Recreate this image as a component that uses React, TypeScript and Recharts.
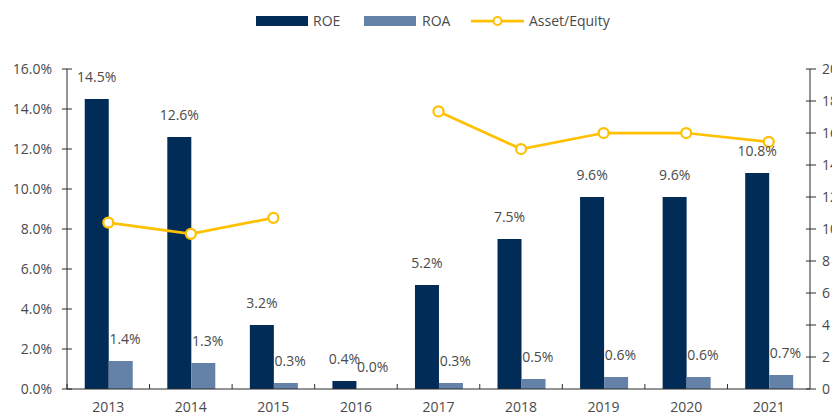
import React from 'react';
import { ComposedChart, Bar, Line, XAxis, YAxis, LabelList } from 'recharts';

const years = ['2013', '2014', '2015', '2016', '2017', '2018', '2019', '2020', '2021'];
const roe = [14.5, 12.6, 3.2, 0.4, 5.2, 7.5, 9.6, 9.6, 10.8];
const roa = [1.4, 1.3, 0.3, 0.0, 0.3, 0.5, 0.6, 0.6, 0.7];
const assetEquity: (number | null)[] = [10.4, 9.7, 10.7, null, 17.35, 15.0, 16.0, 16.0, 15.45];
const leftTicks = [0, 2, 4, 6, 8, 10, 12, 14, 16];
const rightTicks = [0, 2, 4, 6, 8, 10, 12, 14, 16, 18, 20];
const seriesNames = ['ROE', 'ROA', 'Asset/Equity'];

const data = years.map((y, i) => ({ year: y, roe: roe[i], roa: roa[i], roaLabel: roa[i], ae: assetEquity[i] }));

const W = 832;
const H = 408;
const LEFT_W = 59;
const RIGHT_W = 30;
const TOP = 61;
const BOTTOM_H = 27;
const BW = (W - LEFT_W - RIGHT_W) / years.length;
const CAT_GAP = 0.215;
const BAR_W = (BW * (1 - 2 * CAT_GAP)) / 2;

const C_ROE = '#012C57';
const C_ROA = '#6482A7';
const C_LINE = '#FFC000';
const TEXT = '#4a4a4a';
const AXIS = '#2b2b2b';
const FONT = '"Open Sans", "Noto Sans", sans-serif';

const LeftTick = (props: any) => {
  const { x, y, payload } = props;
  return (
    <g>
      <line x1={x + 10} x2={x + 20} y1={y} y2={y} stroke={AXIS} strokeWidth={1} />
      <text x={x} y={y} dy="0.35em" textAnchor="end" fill={TEXT} fontSize={14} fontFamily={FONT}>
        {`${Number(payload.value).toFixed(1)}%`}
      </text>
    </g>
  );
};

const RightTick = (props: any) => {
  const { x, y, payload } = props;
  return (
    <g>
      <line x1={x - 16} x2={x - 6} y1={y} y2={y} stroke={AXIS} strokeWidth={1} />
      <text x={x} y={y} dy="0.35em" textAnchor="start" fill={TEXT} fontSize={14} fontFamily={FONT}>
        {payload.value}
      </text>
    </g>
  );
};

const XTick = (props: any) => {
  const { x, y, payload } = props;
  return (
    <g>
      <line x1={x - BW / 2} x2={x - BW / 2} y1={y - 5} y2={y} stroke={AXIS} strokeWidth={1} />
      <text x={x} y={y + 23} textAnchor="middle" fill={TEXT} fontSize={14} fontFamily={FONT}>
        {payload.value}
      </text>
    </g>
  );
};

const pct = (v: any) => `${Number(v).toFixed(1)}%`;

const legendText: React.CSSProperties = {
  position: 'absolute',
  top: 4,
  fontFamily: FONT,
  fontSize: 14,
  lineHeight: '18px',
  color: TEXT,
  whiteSpace: 'nowrap',
};

const Legend = () => (
  <div style={{ position: 'absolute', top: 0, left: 0, width: W, height: 30 }}>
    <span style={{ position: 'absolute', left: 248, top: 8, width: 52, height: 10, background: C_ROE }} />
    <span style={{ ...legendText, left: 305 }}>{seriesNames[0]}</span>
    <span style={{ position: 'absolute', left: 356, top: 8, width: 52, height: 10, background: C_ROA }} />
    <span style={{ ...legendText, left: 414 }}>{seriesNames[1]}</span>
    <svg width={53} height={14} style={{ position: 'absolute', left: 463, top: 6 }}>
      <line x1={0} x2={53} y1={7} y2={7} stroke={C_LINE} strokeWidth={2.75} />
      <circle cx={26.5} cy={7} r={4} fill="#fff" stroke={C_LINE} strokeWidth={2} />
    </svg>
    <span style={{ ...legendText, left: 521 }}>{seriesNames[2]}</span>
  </div>
);

export default function App() {
  return (
    <div style={{ position: 'relative', width: W, height: H }}>
      <ComposedChart
        width={W}
        height={H}
        data={data}
        margin={{ top: TOP, right: 0, bottom: 0, left: 0 }}
        barCategoryGap={`${CAT_GAP * 100}%`}
        barGap={0}
      >
        <XAxis
          dataKey="year"
          height={BOTTOM_H}
          tickLine={false}
          tickSize={0}
          tickMargin={0}
          interval={0}
          stroke={AXIS}
          tick={<XTick />}
        />
        <YAxis
          yAxisId="left"
          orientation="left"
          width={LEFT_W}
          domain={[0, 16]}
          ticks={leftTicks}
          tickLine={false}
          tickSize={0}
          tickMargin={15}
          stroke={AXIS}
          tick={<LeftTick />}
        />
        <YAxis
          yAxisId="right"
          orientation="right"
          width={RIGHT_W}
          domain={[0, 20]}
          ticks={rightTicks}
          tickLine={false}
          tickSize={0}
          tickMargin={12}
          stroke={AXIS}
          tick={<RightTick />}
        />
        <Bar yAxisId="left" dataKey="roe" name={seriesNames[0]} fill={C_ROE} isAnimationActive={false}>
          <LabelList
            dataKey="roe"
            position="top"
            offset={17}
            formatter={pct}
            fill={TEXT}
            fontSize={14}
            fontFamily={FONT}
          />
        </Bar>
        <Bar yAxisId="left" dataKey="roa" name={seriesNames[1]} fill={C_ROA} isAnimationActive={false} />
        <Line
          yAxisId="left"
          dataKey="roaLabel"
          stroke="none"
          dot={false}
          activeDot={false}
          legendType="none"
          isAnimationActive={false}
        >
          <LabelList
            dataKey="roaLabel"
            position="top"
            offset={17}
            dx={BAR_W / 2 + 5}
            formatter={pct}
            fill={TEXT}
            fontSize={14}
            fontFamily={FONT}
          />
        </Line>
        <Line
          yAxisId="right"
          dataKey="ae"
          name={seriesNames[2]}
          stroke={C_LINE}
          strokeWidth={2.75}
          dot={{ r: 5, fill: '#fff', stroke: C_LINE, strokeWidth: 2.25 }}
          activeDot={false}
          connectNulls={false}
          isAnimationActive={false}
        />
      </ComposedChart>
      <Legend />
    </div>
  );
}
